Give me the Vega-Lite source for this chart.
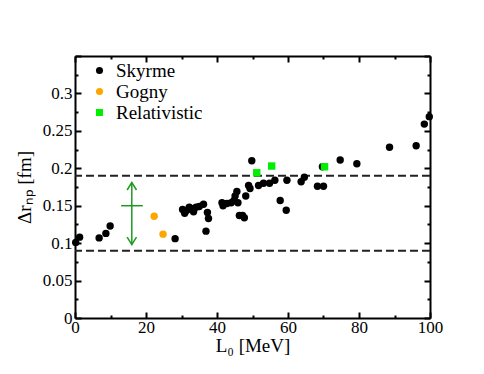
{
  "$schema": "https://vega.github.io/schema/vega-lite/v6.json",
  "width": 355,
  "height": 262,
  "autosize": {"type": "none"},
  "padding": {"left": 75, "top": 56, "right": 54, "bottom": 56},
  "background": "white",
  "config": {
    "view": {"stroke": null},
    "font": "Times New Roman",
    "axis": {"labelFont": "Times New Roman", "titleFont": "Times New Roman"},
    "legend": {"labelFont": "Times New Roman"}
  },
  "datasets": {
    "points": [
      {"L": 0.2, "dr": 0.101, "model": "Skyrme"},
      {"L": 1.3, "dr": 0.108, "model": "Skyrme"},
      {"L": 6.8, "dr": 0.107, "model": "Skyrme"},
      {"L": 8.7, "dr": 0.113, "model": "Skyrme"},
      {"L": 9.9, "dr": 0.123, "model": "Skyrme"},
      {"L": 28.2, "dr": 0.106, "model": "Skyrme"},
      {"L": 30.3, "dr": 0.145, "model": "Skyrme"},
      {"L": 30.9, "dr": 0.140, "model": "Skyrme"},
      {"L": 31.5, "dr": 0.144, "model": "Skyrme"},
      {"L": 32.2, "dr": 0.148, "model": "Skyrme"},
      {"L": 32.9, "dr": 0.146, "model": "Skyrme"},
      {"L": 33.4, "dr": 0.142, "model": "Skyrme"},
      {"L": 34.1, "dr": 0.148, "model": "Skyrme"},
      {"L": 35.0, "dr": 0.149, "model": "Skyrme"},
      {"L": 36.2, "dr": 0.152, "model": "Skyrme"},
      {"L": 37.3, "dr": 0.141, "model": "Skyrme"},
      {"L": 37.6, "dr": 0.133, "model": "Skyrme"},
      {"L": 36.9, "dr": 0.116, "model": "Skyrme"},
      {"L": 41.4, "dr": 0.154, "model": "Skyrme"},
      {"L": 41.7, "dr": 0.150, "model": "Skyrme"},
      {"L": 42.8, "dr": 0.153, "model": "Skyrme"},
      {"L": 44.0, "dr": 0.154, "model": "Skyrme"},
      {"L": 44.8, "dr": 0.157, "model": "Skyrme"},
      {"L": 45.1, "dr": 0.163, "model": "Skyrme"},
      {"L": 45.6, "dr": 0.169, "model": "Skyrme"},
      {"L": 45.9, "dr": 0.154, "model": "Skyrme"},
      {"L": 46.3, "dr": 0.137, "model": "Skyrme"},
      {"L": 47.2, "dr": 0.137, "model": "Skyrme"},
      {"L": 47.7, "dr": 0.134, "model": "Skyrme"},
      {"L": 48.1, "dr": 0.163, "model": "Skyrme"},
      {"L": 48.9, "dr": 0.177, "model": "Skyrme"},
      {"L": 49.3, "dr": 0.173, "model": "Skyrme"},
      {"L": 49.8, "dr": 0.210, "model": "Skyrme"},
      {"L": 51.7, "dr": 0.177, "model": "Skyrme"},
      {"L": 53.1, "dr": 0.180, "model": "Skyrme"},
      {"L": 54.8, "dr": 0.180, "model": "Skyrme"},
      {"L": 56.3, "dr": 0.184, "model": "Skyrme"},
      {"L": 57.8, "dr": 0.157, "model": "Skyrme"},
      {"L": 59.5, "dr": 0.144, "model": "Skyrme"},
      {"L": 59.7, "dr": 0.184, "model": "Skyrme"},
      {"L": 63.7, "dr": 0.182, "model": "Skyrme"},
      {"L": 64.6, "dr": 0.188, "model": "Skyrme"},
      {"L": 68.3, "dr": 0.176, "model": "Skyrme"},
      {"L": 70.0, "dr": 0.176, "model": "Skyrme"},
      {"L": 69.7, "dr": 0.202, "model": "Skyrme"},
      {"L": 74.7, "dr": 0.211, "model": "Skyrme"},
      {"L": 79.4, "dr": 0.206, "model": "Skyrme"},
      {"L": 88.6, "dr": 0.228, "model": "Skyrme"},
      {"L": 96.1, "dr": 0.230, "model": "Skyrme"},
      {"L": 98.4, "dr": 0.259, "model": "Skyrme"},
      {"L": 99.8, "dr": 0.269, "model": "Skyrme"},
      {"L": 22.3, "dr": 0.136, "model": "Gogny"},
      {"L": 24.8, "dr": 0.112, "model": "Gogny"},
      {"L": 51.2, "dr": 0.194, "model": "Relativistic"},
      {"L": 55.4, "dr": 0.203, "model": "Relativistic"},
      {"L": 70.3, "dr": 0.202, "model": "Relativistic"}
    ]
  },
  "layer": [
    {
      "data": {"values": [{"y": 0.19}, {"y": 0.09}]},
      "mark": {"type": "rule", "color": "#222222", "strokeWidth": 2, "strokeDash": [8, 4]},
      "encoding": {
        "y": {"field": "y", "type": "quantitative", "axis": null, "scale": {"domain": [0, 0.35], "nice": false, "zero": false}}
      }
    },
    {
      "data": {"values": [{"L": 16, "y1": 0.098, "y2": 0.181}]},
      "mark": {"type": "rule", "color": "#1f9a1f", "strokeWidth": 1.5},
      "encoding": {
        "x": {"field": "L", "type": "quantitative", "axis": null, "scale": {"domain": [0, 100], "nice": false, "zero": false}},
        "y": {"field": "y1", "type": "quantitative", "axis": null, "scale": {"domain": [0, 0.35], "nice": false, "zero": false}},
        "y2": {"field": "y2"}
      }
    },
    {
      "data": {"values": [{"L": 16, "y": 0.181}]},
      "mark": {"type": "point", "shape": "M-1,1.6L0,0L1,1.6", "filled": false, "color": "#1f9a1f", "strokeWidth": 1.5, "size": 88, "opacity": 1},
      "encoding": {
        "x": {"field": "L", "type": "quantitative", "axis": null},
        "y": {"field": "y", "type": "quantitative", "axis": null}
      }
    },
    {
      "data": {"values": [{"L": 16, "y": 0.098}]},
      "mark": {"type": "point", "shape": "M-1,1.6L0,0L1,1.6", "angle": 180, "filled": false, "color": "#1f9a1f", "strokeWidth": 1.5, "size": 88, "opacity": 1},
      "encoding": {
        "x": {"field": "L", "type": "quantitative", "axis": null},
        "y": {"field": "y", "type": "quantitative", "axis": null}
      }
    },
    {
      "data": {"values": [{"x1": 13, "x2": 19.1, "y": 0.15}]},
      "mark": {"type": "rule", "color": "#1f9a1f", "strokeWidth": 1.5},
      "encoding": {
        "x": {"field": "x1", "type": "quantitative", "scale": {"domain": [0, 100], "nice": false, "zero": false},
          "axis": {"orient": "top", "values": [0,10,20,30,40,50,60,70,80,90,100], "labels": false, "title": null, "grid": false,
            "domainColor": "black", "domainWidth": 2, "tickColor": "black", "tickWidth": 2, "tickSize": -6,
            "tickDash": {"condition": {"test": "datum.value % 20 !== 0", "value": [3, 20]}, "value": [6, 0]}}},
        "x2": {"field": "x2"},
        "y": {"field": "y", "type": "quantitative", "scale": {"domain": [0, 0.35], "nice": false, "zero": false},
          "axis": {"orient": "right", "values": [0,0.025,0.05,0.075,0.1,0.125,0.15,0.175,0.2,0.225,0.25,0.275,0.3,0.325,0.35], "labels": false, "title": null, "grid": false,
            "domainColor": "black", "domainWidth": 2, "tickColor": "black", "tickWidth": 2, "tickSize": -6,
            "tickDash": {"condition": {"test": "abs(datum.value*20 - round(datum.value*20)) > 0.001", "value": [3, 20]}, "value": [6, 0]}}}
      }
    },
    {
      "data": {"name": "points"},
      "mark": {"type": "point", "filled": true, "size": 55, "opacity": 1},
      "encoding": {
        "x": {"field": "L", "type": "quantitative", "scale": {"domain": [0, 100], "nice": false, "zero": false},
          "axis": {"orient": "bottom", "values": [0,10,20,30,40,50,60,70,80,90,100],
            "labelExpr": "datum.value % 20 === 0 ? datum.label : ''", "labelFlush": false, "labelOverlap": false,
            "labelFont": "Times New Roman", "labelFontSize": 17, "labelColor": "black", "labelPadding": 7,
            "title": "L₀ [MeV]", "titleFont": "Times New Roman", "titleFontSize": 19, "titleFontWeight": "normal", "titleColor": "black", "titlePadding": 1,
            "grid": false, "domainColor": "black", "domainWidth": 2, "tickColor": "black", "tickWidth": 2, "tickSize": -6,
            "tickDash": {"condition": {"test": "datum.value % 20 !== 0", "value": [3, 20]}, "value": [6, 0]}}},
        "y": {"field": "dr", "type": "quantitative", "scale": {"domain": [0, 0.35], "nice": false, "zero": false},
          "axis": {"orient": "left", "values": [0,0.025,0.05,0.075,0.1,0.125,0.15,0.175,0.2,0.225,0.25,0.275,0.3,0.325,0.35],
            "format": ".2~f",
            "labelExpr": "(abs(datum.value*20 - round(datum.value*20)) < 0.001 && datum.value < 0.34) ? datum.label : ''", "labelFlush": false, "labelOverlap": false,
            "labelFont": "Times New Roman", "labelFontSize": 17, "labelColor": "black", "labelPadding": 9,
            "title": "Δrₙₚ [fm]", "titleFont": "Times New Roman", "titleFontSize": 19, "titleFontWeight": "normal", "titleColor": "black", "titlePadding": 8,
            "grid": false, "domainColor": "black", "domainWidth": 2, "tickColor": "black", "tickWidth": 2, "tickSize": -6,
            "tickDash": {"condition": {"test": "abs(datum.value*20 - round(datum.value*20)) > 0.001", "value": [3, 20]}, "value": [6, 0]}}},
        "color": {"field": "model", "type": "nominal",
          "scale": {"domain": ["Skyrme", "Gogny", "Relativistic"], "range": ["black", "#ffa500", "#00ee00"]},
          "legend": {"title": null, "orient": "none", "legendX": 15, "legendY": 5, "padding": 0,
            "labelFont": "Times New Roman", "labelFontSize": 19, "labelColor": "black", "labelOffset": 7,
            "rowPadding": 1, "symbolSize": 50}},
        "shape": {"field": "model", "type": "nominal",
          "scale": {"domain": ["Skyrme", "Gogny", "Relativistic"], "range": ["circle", "circle", "square"]},
          "legend": {"title": null, "orient": "none", "legendX": 15, "legendY": 5, "padding": 0,
            "labelFont": "Times New Roman", "labelFontSize": 19, "labelColor": "black", "labelOffset": 7,
            "rowPadding": 1, "symbolSize": 50}}
      }
    }
  ],
  "resolve": {"axis": {"x": "independent", "y": "independent"}}
}
